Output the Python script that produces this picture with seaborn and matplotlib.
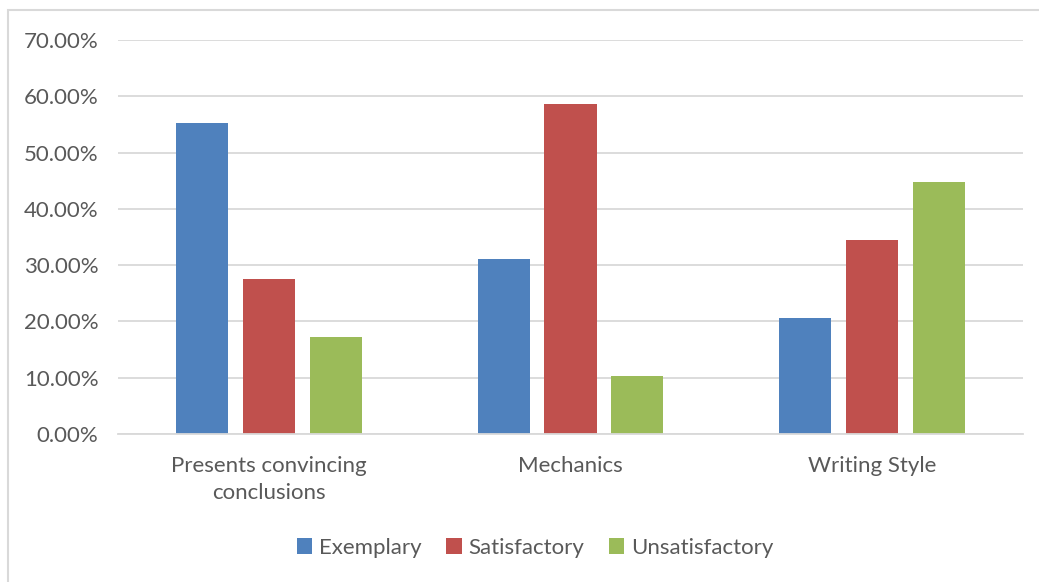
import matplotlib
matplotlib.use("Agg")
import matplotlib.pyplot as plt
from matplotlib.patches import Rectangle
from matplotlib.ticker import PercentFormatter
import seaborn as sns
import pandas as pd

categories = ["Presents convincing\nconclusions", "Mechanics", "Writing Style"]
ratings = ["Exemplary", "Satisfactory", "Unsatisfactory"]
exemplary = [0.5517, 0.3103, 0.2069]
satisfactory = [0.2759, 0.5862, 0.3448]
unsatisfactory = [0.1724, 0.1034, 0.4483]
colors = ["#4F81BD", "#C0504D", "#9BBB59"]
y_ticks = [0.0, 0.1, 0.2, 0.3, 0.4, 0.5, 0.6, 0.7]

rows = []
for series_name, vals in zip(ratings, [exemplary, satisfactory, unsatisfactory]):
    for cat, v in zip(categories, vals):
        rows.append({"Criterion": cat, "Rating": series_name, "Share": v})
df = pd.DataFrame(rows)

sns.set_theme(style="white")
plt.rcParams["font.family"] = ["Lato", "DejaVu Sans"]
text_color = "#595959"
grid_color = "#D9D9D9"
fs = 16

W, H = 1039, 582
fig = plt.figure(figsize=(W / 100, H / 100), dpi=100)
fig.patch.set_facecolor("white")
ax = fig.add_axes([118 / W, 1 - 434 / H, 905 / W, (434 - 40) / H])

sns.barplot(data=df, x="Criterion", y="Share", hue="Rating", order=categories,
            hue_order=ratings, palette=colors, width=0.663, gap=0.22,
            saturation=1, ax=ax, legend=True, edgecolor="none")

ax.set_ylim(0, 0.7)
ax.set_xlim(-0.5, 2.5)
ax.set_yticks(y_ticks)
ax.yaxis.set_major_formatter(PercentFormatter(1.0, decimals=2))
ax.yaxis.grid(True, color=grid_color, linewidth=1.3)
ax.set_axisbelow(True)
for side in ["left", "right", "top"]:
    ax.spines[side].set_visible(False)
ax.spines["bottom"].set_color(grid_color)
ax.spines["bottom"].set_linewidth(1.3)
ax.set_xlabel("")
ax.set_ylabel("")
ax.tick_params(axis="y", length=0, pad=14, labelsize=fs, labelcolor=text_color)
ax.tick_params(axis="x", length=0, pad=16, labelsize=fs, labelcolor=text_color)
for lbl in ax.get_xticklabels():
    lbl.set_linespacing(1.45)

handles, labels = ax.get_legend_handles_labels()
ax.get_legend().remove()
leg = fig.legend(handles, labels, loc="center", ncol=3,
                 bbox_to_anchor=(535 / W, 1 - 548 / H), frameon=False,
                 fontsize=fs, handlelength=0.7, handleheight=0.7,
                 handletextpad=0.3, columnspacing=1.1, labelcolor=text_color)

fig.patches.append(Rectangle((8 / W, -0.02), 1.05, 1 - 10 / H + 0.02,
                             transform=fig.transFigure, fill=False,
                             edgecolor=grid_color, linewidth=1.5))

fig.savefig("out.png", dpi=100, facecolor="white")
